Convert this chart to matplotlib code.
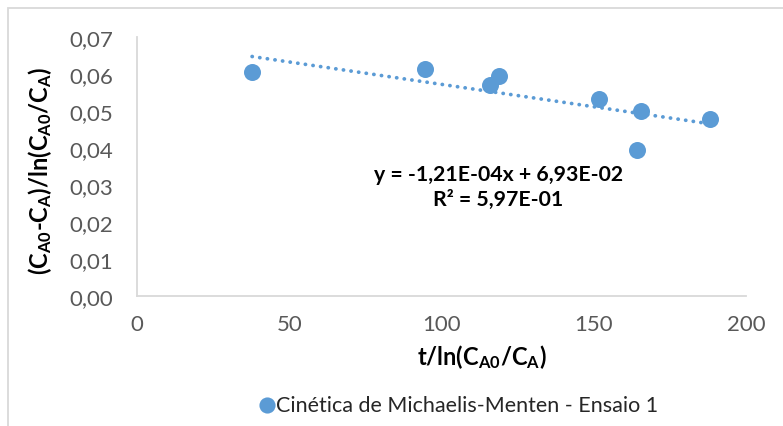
import matplotlib
matplotlib.use("Agg")
import matplotlib.pyplot as plt
from matplotlib.patches import Rectangle
import numpy as np

plt.rcParams["font.family"] = ["Lato", "DejaVu Sans"]
plt.rcParams["mathtext.fontset"] = "custom"
plt.rcParams["mathtext.rm"] = "Lato:bold"
plt.rcParams["mathtext.it"] = "Lato:bold"
plt.rcParams["mathtext.bf"] = "Lato:bold"
plt.rcParams["mathtext.default"] = "regular"

# Data: t/ln(CA0/CA) vs (CA0-CA)/ln(CA0/CA)
x_vals = [37.8, 94.6, 115.9, 118.9, 151.7, 165.5, 164.2, 188.2]
y_vals = [0.0605, 0.0614, 0.0570, 0.0595, 0.0532, 0.0500, 0.0395, 0.0478]

# Linear trendline parameters
slope = -1.21e-04
intercept = 6.93e-02
r_squared = 5.97e-01

x_ticks = [0, 50, 100, 150, 200]
y_ticks = [0.00, 0.01, 0.02, 0.03, 0.04, 0.05, 0.06, 0.07]
y_tick_labels = ["0,00", "0,01", "0,02", "0,03", "0,04", "0,05", "0,06", "0,07"]
series_name = "Cinética de Michaelis-Menten - Ensaio 1"

blue = "#5B9BD5"
grey_text = "#595959"
grey_line = "#D9D9D9"

W, H = 783, 427
fig = plt.figure(figsize=(W / 100, H / 100), dpi=100)
ax = fig.add_axes([137 / W, 1 - 297 / H, (746 - 137) / W, (297 - 38) / H])

# Chart-area border
fig.patches.append(Rectangle((8 / W, -0.1), 1.2, 1 - 8.5 / H + 0.1,
                             transform=fig.transFigure, fill=False,
                             edgecolor=grey_line, linewidth=1.3))

ax.scatter(x_vals, y_vals, s=150, color=blue, zorder=3, linewidths=0,
           label=series_name)

xt = np.array([min(x_vals), max(x_vals)])
ax.plot(xt, slope * xt + intercept, color=blue, linewidth=2.7,
        linestyle=(0, (0.05, 2.0)), dash_capstyle="round", zorder=2)

ax.set_xlim(0, 200)
ax.set_ylim(0, 0.07)
ax.set_xticks(x_ticks)
ax.set_yticks(y_ticks)
ax.set_yticklabels(y_tick_labels)
ax.tick_params(length=0, labelsize=16, colors=grey_text)
ax.tick_params(axis="y", pad=17)
ax.tick_params(axis="x", pad=13)
for side in ["top", "right"]:
    ax.spines[side].set_visible(False)
for side in ["left", "bottom"]:
    ax.spines[side].set_color(grey_line)
    ax.spines[side].set_linewidth(1.3)

fig.text(482 / W, 1 - 357 / H, r"t/ln(C$_{A0}$/C$_A$)", fontsize=17,
         fontweight="bold", ha="center", va="center")
fig.text(40 / W, 1 - 171 / H, r"(C$_{A0}$-C$_A$)/ln(C$_{A0}$/C$_A$)",
         fontsize=17, fontweight="bold", ha="center", va="center",
         rotation=90)

eq_text = "y = {:.2E}x + {:.2E}".format(slope, intercept).replace(".", ",")
r_text = "R² = {:.2E}".format(r_squared).replace(".", ",")
ax.text(118.6, 0.0296, eq_text + "\n" + r_text, fontsize=15.3,
        fontweight="bold", ha="center", va="center", linespacing=1.3,
        color="black")

fig.legend(handles=ax.collections, labels=[series_name], loc="center",
           bbox_to_anchor=(457 / W, 1 - 406 / H), frameon=False,
           fontsize=15.5, handlelength=1.0, handletextpad=-0.1,
           markerscale=0.95, labelcolor="#262626")

fig.savefig("out.png", dpi=100)
